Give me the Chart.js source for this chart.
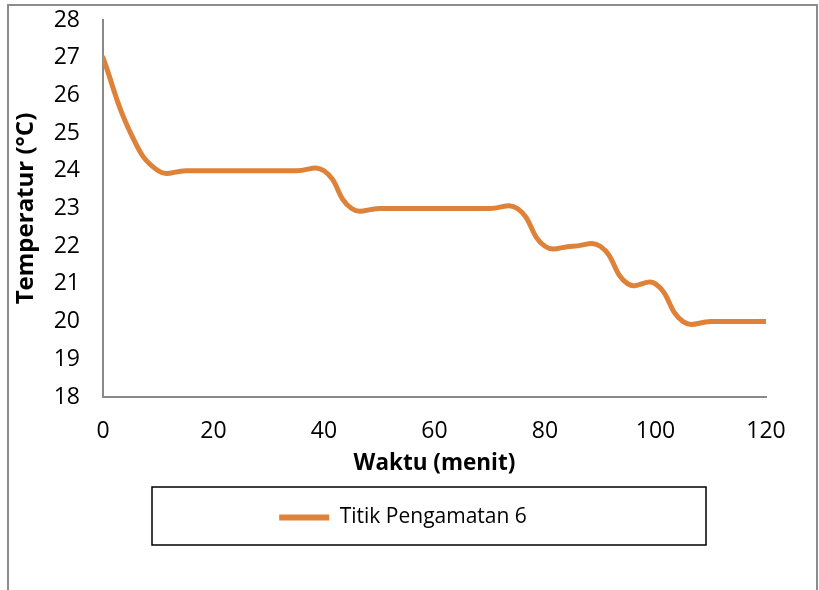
<!DOCTYPE html>
<html>
<head>
<meta charset="utf-8">
<script src="https://cdn.jsdelivr.net/npm/chart.js@4.4.0/dist/chart.umd.min.js"></script>
<style>
  html, body { margin: 0; padding: 0; background: #fff; }
  #wrap { position: relative; width: 819px; height: 590px; overflow: hidden; }
  #frame { position: absolute; left: 7px; top: 4px; width: 811px; height: 600px; border: 2px solid #8c8c8c; box-sizing: border-box; }
  canvas { position: absolute; left: 0; top: 0; }
</style>
</head>
<body>
<div id="wrap">
  <div id="frame"></div>
  <canvas id="myChart" width="819" height="590"></canvas>
</div>
<script>
// waktu (menit) dan temperatur
var waktu = [0,5,10,15,20,25,30,35,40,45,50,55,60,65,70,75,80,85,90,95,100,105,110,115,120];
var temperatur = [27,25,24,24,24,24,24,24,24,23,23,23,23,23,23,23,22,22,22,21,21,20,20,20,20];
var seriesLabel = 'Titik Pengamatan 6';
var xTicks = [0,20,40,60,80,100,120];
var yTicks = [18,19,20,21,22,23,24,25,26,27,28];

var lineColor = '#DF8239';
var axisColor = '#8a8a8a';
var fontFam = '"Open Sans", Lato, sans-serif';

var points = waktu.map(function(w, i){ return {x: w, y: temperatur[i]}; });

/* kotak legenda */
var legendBox = {
  id: 'legendBox',
  afterLayout: function(chart){
    // geser sedikit ke kanan
    chart.legend.left += 16;
    chart.legend.right += 16;
  },
  afterDraw: function(chart){
    var ctx = chart.ctx, a = chart.chartArea, hb = chart.legend.legendHitBoxes[0];
    var cy = hb.top + hb.height / 2;
    ctx.save();
    ctx.strokeStyle = '#000';
    ctx.lineWidth = 1.5;
    ctx.strokeRect(a.left + 49, Math.round(cy) - 31, (a.right - 60) - (a.left + 49), 58);
    ctx.restore();
  }
};

var ctx = document.getElementById('myChart');
var chart = new Chart(ctx, {
  type: 'line',
  data: {
    datasets: [{
      label: seriesLabel,
      data: points,
      borderColor: lineColor,
      backgroundColor: lineColor,
      borderWidth: 5,
      pointRadius: 0,
      tension: 0.45,
      borderCapStyle: 'round',
      fill: false
    }]
  },
  options: {
    responsive: false,
    animation: false,
    layout: { padding: { left: 8, right: 53, top: 20, bottom: 52 } },
    plugins: {
      tooltip: { enabled: false },
      legend: {
        position: 'bottom',
        labels: {
          color: '#000',
          font: { family: fontFam, size: 21 },
          boxWidth: 50,
          boxHeight: 6,
          padding: 30,
          generateLabels: function(chart){
            return [{
              text: seriesLabel, fillStyle: lineColor, strokeStyle: lineColor,
              lineWidth: 0, datasetIndex: 0, hidden: false
            }];
          }
        }
      }
    },
    scales: {
      x: {
        type: 'linear',
        min: 0, max: 120,
        afterBuildTicks: function(s){ s.ticks = xTicks.map(function(v){ return {value: v}; }); },
        afterFit: function(s){ s.height = 80; },
        grid: { display: false, drawTicks: true, tickLength: 7, tickColor: axisColor },
        border: { color: axisColor, width: 2 },
        ticks: { color: '#000', font: { family: fontFam, size: 23 }, padding: 14, maxRotation: 0 },
        title: { display: true, text: 'Waktu (menit)', color: '#000', font: { family: fontFam, size: 22.5, weight: 'bold' }, padding: { top: 0, bottom: 0 } }
      },
      y: {
        min: 18, max: 28,
        afterBuildTicks: function(s){ s.ticks = yTicks.map(function(v){ return {value: v}; }); },
        afterFit: function(s){ s.width = 95; s.paddingTop = 0; s.paddingBottom = 0; },
        grid: { display: false, drawTicks: true, tickLength: 7, tickColor: axisColor },
        border: { color: axisColor, width: 2 },
        ticks: { color: '#000', font: { family: fontFam, size: 23 }, padding: 16 },
        title: { display: true, text: 'Temperatur (°C)', color: '#000', font: { family: fontFam, size: 24, weight: 'bold' }, padding: { top: 4, bottom: 0 } }
      }
    }
  },
  plugins: [legendBox]
});
</script>
</body>
</html>
